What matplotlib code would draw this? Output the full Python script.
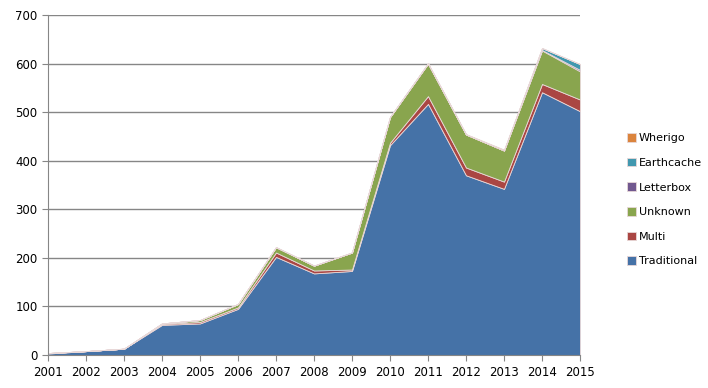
import numpy as np
import matplotlib
matplotlib.use("Agg")
import matplotlib.pyplot as plt

years = list(range(2001, 2016))
traditional = [3, 8, 13, 62, 65, 95, 202, 168, 173, 432, 517, 370, 342, 541, 502]
multi = [1, 0, 0, 2, 3, 3, 9, 6, 3, 5, 16, 16, 15, 17, 24]
unknown = [0, 0, 0, 1, 4, 7, 11, 10, 35, 53, 67, 68, 64, 69, 58]
letterbox = [0, 0, 0, 0, 0, 0, 0, 0, 0, 0, 0, 0, 0, 1, 3]
earthcache = [0, 0, 0, 0, 0, 0, 0, 0, 0, 0, 0, 0, 0, 4, 12]
wherigo = [0, 0, 0, 0, 0, 0, 0, 0, 0, 0, 1, 1, 2, 0, 0]

series = [traditional, multi, unknown, letterbox, earthcache, wherigo]
names = ["Traditional", "Multi", "Unknown", "Letterbox", "Earthcache", "Wherigo"]
colors = ["#4572A7", "#AA4643", "#89A54E", "#71588F", "#4198AF", "#DB843D"]

fig = plt.figure(figsize=(7.08, 3.88), dpi=100)
ax = fig.add_axes([48 / 708, 1 - 355 / 388, (580 - 48) / 708, (355 - 15) / 388])

polys = ax.stackplot(years, *series, colors=colors, labels=names,
                     edgecolor="#E8D8D8", linewidth=0.6)

ax.set_xlim(2001, 2015)
ax.set_ylim(0, 700)
ax.set_yticks(np.arange(0, 701, 100))
ax.set_xticks(years)
ax.yaxis.grid(True, color="#868686", linewidth=1)
ax.set_axisbelow(True)
for side in ["top", "right"]:
    ax.spines[side].set_visible(False)
for side in ["left", "bottom"]:
    ax.spines[side].set_color("#868686")
ax.tick_params(axis="both", colors="#868686", labelcolor="black",
               labelsize=8.5, length=4)
ax.tick_params(axis="x", pad=4)

handles, labels = ax.get_legend_handles_labels()
fig.legend(handles[::-1], labels[::-1], loc="center left",
           bbox_to_anchor=(0.871, 0.485), frameon=False, fontsize=8,
           handlelength=0.8, handleheight=0.8, handletextpad=0.3,
           labelspacing=1.3)

fig.savefig("out.png", dpi=100)
